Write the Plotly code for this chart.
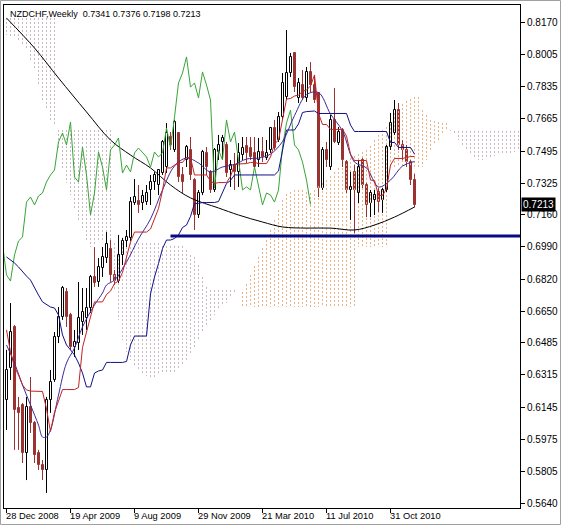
import plotly.graph_objects as go

# ---------------- data ----------------
header_text = "NZDCHF,Weekly  0.7341 0.7376 0.7198 0.7213"
last_close = 0.7213

week = list(range(103))
open_p = [0.6183,0.6352,0.6568,0.6141,0.6157,0.5904,0.6146,0.6062,0.5904,0.5840,
          0.5814,0.6183,0.6288,0.6515,0.6620,0.6752,0.6631,0.6462,0.6483,0.6594,
          0.6615,0.6668,0.6831,0.6805,0.6879,0.6931,0.6979,0.6842,0.6810,0.6947,
          0.7021,0.7037,0.7221,0.7232,0.7221,0.7226,0.7290,0.7332,0.7316,0.7379,
          0.7411,0.7569,0.7501,0.7590,0.7369,0.7448,0.7501,0.7342,0.7158,0.7274,
          0.7485,0.7385,0.7290,0.7490,0.7543,0.7527,0.7395,0.7421,0.7385,0.7474,
          0.7522,0.7511,0.7485,0.7448,0.7490,0.7458,0.7501,0.7616,0.7553,0.7674,
          0.7780,0.7906,0.8012,0.7775,0.7843,0.7775,0.7912,0.7843,0.7801,0.7300,
          0.7501,0.7411,0.7659,0.7537,0.7606,0.7437,0.7290,0.7385,0.7274,0.7448,
          0.7316,0.7221,0.7237,0.7279,0.7237,0.7290,0.7516,0.7590,0.7711,0.7527,
          0.7501,0.7437,0.7341]
high_p = [0.6447,0.6694,0.6578,0.6199,0.6167,0.6199,0.6304,0.6072,0.5920,0.5867,
          0.6199,0.6341,0.6541,0.6673,0.6784,0.6773,0.6642,0.6552,0.6805,0.6773,
          0.6773,0.6842,0.6989,0.6931,0.6989,0.7068,0.7026,0.6868,0.7053,0.7037,
          0.7079,0.7253,0.7348,0.7316,0.7290,0.7316,0.7369,0.7385,0.7395,0.7553,
          0.7643,0.7595,0.7659,0.7595,0.7411,0.7527,0.7569,0.7353,0.7290,0.7501,
          0.7516,0.7395,0.7511,0.7580,0.7580,0.7543,0.7448,0.7485,0.7537,0.7569,
          0.7569,0.7569,0.7569,0.7564,0.7569,0.7553,0.7622,0.7659,0.7701,0.7906,
          0.8133,0.8012,0.8017,0.7880,0.7922,0.7938,0.7964,0.7896,0.7806,0.7516,
          0.7543,0.7685,0.7827,0.7622,0.7616,0.7448,0.7385,0.7421,0.7448,0.7458,
          0.7327,0.7290,0.7290,0.7300,0.7300,0.7527,0.7696,0.7764,0.7748,0.7553,
          0.7527,0.7448,0.7376]
low_p = [0.6025,0.6288,0.5920,0.5920,0.5851,0.5761,0.6009,0.5851,0.5814,0.5761,
         0.5693,0.6115,0.6278,0.6483,0.6605,0.6568,0.6447,0.6410,0.6447,0.6526,
         0.6552,0.6642,0.6779,0.6779,0.6831,0.6905,0.6805,0.6789,0.6800,0.6894,
         0.6989,0.7021,0.7211,0.7169,0.7184,0.7211,0.7211,0.7290,0.7263,0.7369,
         0.7379,0.7501,0.7490,0.7332,0.7274,0.7411,0.7342,0.7079,0.7142,0.7263,
         0.7369,0.7274,0.7279,0.7448,0.7448,0.7358,0.7306,0.7290,0.7306,0.7448,
         0.7432,0.7448,0.7406,0.7411,0.7437,0.7448,0.7485,0.7501,0.7543,0.7659,
         0.7764,0.7885,0.7806,0.7748,0.7764,0.7754,0.7806,0.7748,0.7253,0.7290,
         0.7411,0.7395,0.7537,0.7527,0.7411,0.7274,0.7132,0.7063,0.7221,0.7300,
         0.7147,0.7147,0.7158,0.7174,0.7169,0.7279,0.7501,0.7580,0.7501,0.7448,
         0.7411,0.7316,0.7198]
close_p = [0.6341,0.6541,0.6130,0.6115,0.5904,0.6146,0.6062,0.5893,0.5840,0.5814,
           0.6183,0.6278,0.6515,0.6620,0.6773,0.6620,0.6462,0.6489,0.6615,0.6647,
           0.6668,0.6831,0.6800,0.6884,0.6937,0.7005,0.6842,0.6810,0.6947,0.7021,
           0.7042,0.7226,0.7253,0.7211,0.7258,0.7274,0.7332,0.7369,0.7395,0.7543,
           0.7590,0.7527,0.7648,0.7358,0.7332,0.7516,0.7369,0.7158,0.7274,0.7490,
           0.7411,0.7290,0.7501,0.7527,0.7564,0.7379,0.7421,0.7385,0.7485,0.7511,
           0.7485,0.7464,0.7411,0.7490,0.7464,0.7485,0.7616,0.7511,0.7674,0.7854,
           0.7906,0.7991,0.7832,0.7854,0.7775,0.7912,0.7843,0.7764,0.7300,0.7501,
           0.7448,0.7659,0.7543,0.7595,0.7448,0.7290,0.7306,0.7290,0.7411,0.7316,
           0.7211,0.7274,0.7263,0.7226,0.7290,0.7516,0.7643,0.7711,0.7527,0.7501,
           0.7437,0.7342,0.7213]

tenkan = [0.6552,0.6436,0.6357,0.6315,0.6262,0.6236,0.6230,0.6230,0.6228,0.6228,
          0.6136,0.6017,0.6117,0.6183,0.6238,0.6238,0.6238,0.6238,0.6249,0.6460,
          0.6541,0.6626,0.6700,0.6700,0.6700,0.6739,0.6757,0.6797,0.6810,0.6855,
          0.6929,0.7016,0.7068,0.7068,0.7068,0.7068,0.7084,0.7140,0.7192,0.7287,
          0.7406,0.7406,0.7421,0.7435,0.7435,0.7461,0.7461,0.7369,0.7369,0.7369,
          0.7369,0.7337,0.7324,0.7329,0.7329,0.7329,0.7361,0.7421,0.7427,0.7427,
          0.7429,0.7435,0.7435,0.7429,0.7429,0.7429,0.7464,0.7532,0.7553,0.7656,
          0.7769,0.7772,0.7785,0.7790,0.7809,0.7817,0.7838,0.7896,0.7693,0.7635,
          0.7635,0.7609,0.7609,0.7609,0.7609,0.7574,0.7479,0.7445,0.7445,0.7445,
          0.7445,0.7342,0.7340,0.7261,0.7261,0.7295,0.7421,0.7456,0.7456,0.7456,
          0.7461,0.7466,0.7466]
kijun = [0.6937,0.6921,0.6905,0.6884,0.6858,0.6836,0.6815,0.6773,0.6736,0.6700,
         0.6684,0.6673,0.6668,0.6631,0.6526,0.6473,0.6447,0.6420,0.6378,0.6325,
         0.6252,0.6252,0.6325,0.6336,0.6341,0.6381,0.6381,0.6381,0.6381,0.6381,
         0.6386,0.6473,0.6520,0.6520,0.6520,0.6520,0.6742,0.6831,0.6902,0.6981,
         0.7026,0.7026,0.7034,0.7053,0.7092,0.7105,0.7150,0.7219,0.7219,0.7224,
         0.7224,0.7224,0.7224,0.7229,0.7277,0.7324,0.7340,0.7369,0.7369,0.7369,
         0.7369,0.7369,0.7369,0.7369,0.7369,0.7369,0.7369,0.7369,0.7390,0.7493,
         0.7606,0.7606,0.7606,0.7638,0.7698,0.7703,0.7703,0.7706,0.7693,0.7693,
         0.7693,0.7693,0.7693,0.7693,0.7693,0.7693,0.7632,0.7598,0.7598,0.7598,
         0.7598,0.7598,0.7598,0.7598,0.7598,0.7598,0.7540,0.7540,0.7514,0.7514,
         0.7514,0.7514,0.7479]
chikou_shift = 26

span_a = [0.8107,0.8101,0.8096,0.8080,0.8054,0.8028,0.7975,0.7922,0.7843,0.7764,
          0.7711,0.7659,0.7632,0.7501,0.7395,0.7327,0.7263,0.7184,0.7132,0.7079,
          0.7026,0.6989,0.7000,0.7016,0.7026,0.7026,0.7026,0.6763,0.6604,0.6499,
          0.6436,0.6394,0.6367,0.6341,0.6325,0.6309,0.6304,0.6304,0.6315,0.6325,
          0.6325,0.6325,0.6325,0.6341,0.6367,0.6394,0.6431,0.6457,0.6499,0.6536,
          0.6578,0.6604,0.6631,0.6657,0.6678,0.6694,0.6721,0.6742,0.6763,0.6752,
          0.6794,0.6842,0.6889,0.6937,0.6984,0.7026,0.7079,0.7132,0.7184,0.7237,
          0.7269,0.7279,0.7290,0.7290,0.7290,0.7279,0.7274,0.7290,0.7311,0.7327,
          0.7342,0.7364,0.7385,0.7406,0.7427,0.7448,0.7458,0.7469,0.7479,0.7490,
          0.7501,0.7522,0.7553,0.7580,0.7606,0.7622,0.7659,0.7696,0.7727,0.7743,
          0.7759,0.7769,0.7780,0.7780,0.7711,0.7685,0.7659,0.7653,0.7648,0.7643,
          0.7643,0.7606,0.7580,0.7553,0.7527,0.7501,0.7474,0.7458,0.7448,0.7448,
          0.7458,0.7464,0.7469,0.7474,0.7474,0.7479,0.7485,0.7490,0.7501]
span_b = [0.8196,0.8196,0.8196,0.8196,0.8196,0.8196,0.8196,0.8196,0.8196,0.8196,
          0.8196,0.8196,0.8196,0.7606,0.7606,0.7606,0.7606,0.7606,0.7606,0.7606,
          0.7606,0.7606,0.7606,0.7606,0.7606,0.7606,0.7606,0.7010,0.7010,0.7010,
          0.7010,0.7010,0.7010,0.7010,0.7010,0.7010,0.7010,0.7010,0.7010,0.6995,
          0.6995,0.6995,0.6995,0.6995,0.6995,0.6974,0.6947,0.6937,0.6894,0.6831,
          0.6779,0.6763,0.6763,0.6763,0.6763,0.6763,0.6763,0.6763,0.6763,0.6673,
          0.6673,0.6673,0.6673,0.6673,0.6673,0.6673,0.6673,0.6673,0.6673,0.6673,
          0.6673,0.6673,0.6673,0.6673,0.6673,0.6673,0.6673,0.6673,0.6673,0.6673,
          0.6673,0.6673,0.6673,0.6673,0.6673,0.6673,0.6673,0.6673,0.6989,0.6989,
          0.6989,0.6989,0.6989,0.6989,0.6989,0.6989,0.7411,0.7411,0.7411,0.7411,
          0.7411,0.7411,0.7411,0.7411,0.7411,0.7448,0.7501,0.7527,0.7553,0.7580,
          0.7601,0.7601,0.7601,0.7601,0.7601,0.7601,0.7601,0.7601,0.7601,0.7601,
          0.7601,0.7601,0.7601,0.7601,0.7601,0.7601,0.7601,0.7601,0.7601]

ma_week = [0,2,4,6,8,9,10,11,13,15,17,19,22,24,25,27,30,33,36,39,42,45,48,51,54,57,
           60,63,66,69,72,75,78,81,84,87,90,93,96,99,102]
ma_vals = [0.6473,0.6378,0.6262,0.6157,0.6051,0.5988,0.5988,0.6025,0.6209,0.6378,
           0.6457,0.6568,0.6684,0.6747,0.6789,0.6815,0.6910,0.7032,0.7137,0.7290,
           0.7416,0.7458,0.7432,0.7385,0.7411,0.7424,0.7453,0.7458,0.7479,0.7545,
           0.7682,0.7792,0.7803,0.7690,0.7601,0.7437,0.7406,0.7306,0.7342,0.7416,0.7440]

slow_week = [0,7,13,20,26,31,36,41,46,53,58,64,69,75,81,87,92,97,102]
slow_vals = [0.8196,0.8038,0.7880,0.7701,0.7553,0.7474,0.7406,0.7316,0.7248,0.7195,
             0.7158,0.7121,0.7095,0.7089,0.7089,0.7079,0.7105,0.7147,0.7200]

support_level = 0.7047
support_from_week = 41

date_ticks = [0, 16, 32, 48, 64, 80, 96]
date_labels = ["28 Dec 2008", "19 Apr 2009", "9 Aug 2009", "29 Nov 2009",
               "21 Mar 2010", "11 Jul 2010", "31 Oct 2010"]
price_labels = ["0.8170", "0.8005", "0.7835", "0.7665", "0.7495", "0.7325", "0.7160",
                "0.6990", "0.6820", "0.6650", "0.6485", "0.6315", "0.6145", "0.5975",
                "0.5805", "0.5640"]
price_ticks = [float(t) for t in price_labels]

# ---------------- styles ----------------
SANDY = "#e8b083"
THISTLE = "#c9b6c0"
BEAR = "#9a3232"
TENKAN_C = "#c42222"
KIJUN_C = "#10108a"
MA_C = "#3a2c9a"
CHIKOU_C = "#38a438"
FONT = "Liberation Sans, Arial, sans-serif"

fig = go.Figure()

# cloud: one dotted vertical stroke per week, coloured by which span is on top
bx, by, tx, ty = [], [], [], []
for i, (a, b) in enumerate(zip(span_a, span_b)):
    if a >= b:
        bx += [i, i, None]; by += [a, b, None]
    else:
        tx += [i, i, None]; ty += [b, a, None]
fig.add_trace(go.Scatter(x=tx, y=ty, mode="lines", hoverinfo="skip", name="kumo_bear",
                         line=dict(color=THISTLE, width=1, dash="2px,2px")))
fig.add_trace(go.Scatter(x=bx, y=by, mode="lines", hoverinfo="skip", name="kumo_bull",
                         line=dict(color=SANDY, width=1, dash="2px,2px")))

# candles: bodies as bars, wicks as line segments outside the body
bull_w, bull_b, bull_h, bear_w, bear_b, bear_h = [], [], [], [], [], []
wick_bull_x, wick_bull_y, wick_bear_x, wick_bear_y = [], [], [], []
for i, o, h, l, c in zip(week, open_p, high_p, low_p, close_p):
    lo, hi = min(o, c), max(o, c)
    seg_x = [i, i, None, i, i, None]
    seg_y = [l, lo, None, hi, h, None]
    if c >= o:
        bull_w.append(i); bull_b.append(lo); bull_h.append(hi - lo)
        wick_bull_x += seg_x; wick_bull_y += seg_y
    else:
        bear_w.append(i); bear_b.append(lo); bear_h.append(hi - lo)
        wick_bear_x += seg_x; wick_bear_y += seg_y
fig.add_trace(go.Bar(x=bull_w, y=bull_h, base=bull_b, width=0.5, hoverinfo="skip",
                     marker=dict(color="white", line=dict(color="black", width=1))))
fig.add_trace(go.Bar(x=bear_w, y=bear_h, base=bear_b, width=0.5, hoverinfo="skip",
                     marker=dict(color=BEAR, line=dict(color=BEAR, width=1))))
fig.add_trace(go.Scatter(x=wick_bull_x, y=wick_bull_y, mode="lines", hoverinfo="skip",
                         line=dict(color="black", width=1)))
fig.add_trace(go.Scatter(x=wick_bear_x, y=wick_bear_y, mode="lines", hoverinfo="skip",
                         line=dict(color=BEAR, width=1)))

# indicator lines
fig.add_trace(go.Scatter(x=slow_week, y=slow_vals, mode="lines", line=dict(color="black", width=1),
                         line_shape="spline", hoverinfo="skip"))
fig.add_trace(go.Scatter(x=[i - chikou_shift for i in week], y=close_p, mode="lines",
                         line=dict(color=CHIKOU_C, width=1), hoverinfo="skip"))
fig.add_trace(go.Scatter(x=week, y=kijun, mode="lines", line=dict(color=KIJUN_C, width=1),
                         hoverinfo="skip"))
fig.add_trace(go.Scatter(x=ma_week, y=ma_vals, mode="lines", line=dict(color=MA_C, width=1),
                         line_shape="spline", hoverinfo="skip"))
fig.add_trace(go.Scatter(x=week, y=tenkan, mode="lines", line=dict(color=TENKAN_C, width=1),
                         hoverinfo="skip"))
fig.add_trace(go.Scatter(x=[support_from_week, len(span_a) + 5], y=[support_level, support_level],
                         mode="lines", line=dict(color="#0a0a82", width=3), hoverinfo="skip"))

annotations = []
for t, lab in zip(date_ticks, date_labels):
    annotations.append(dict(x=t, y=0, xref="x", yref="paper", text=lab, showarrow=False,
                            xanchor="left", yanchor="top", xshift=-3, yshift=-1,
                            font=dict(family=FONT, size=9.3, color="black")))
annotations.append(dict(x=0, y=1, xref="paper", yref="paper", text=header_text, showarrow=False,
                        xanchor="left", yanchor="top", xshift=4, yshift=-2,
                        font=dict(family=FONT, size=9, color="black")))
annotations.append(dict(x=1, y=last_close, xref="paper", yref="y", text=f"{last_close:.4f}",
                        showarrow=False, xanchor="left", yanchor="middle", xshift=1,
                        bgcolor="black", borderpad=1,
                        font=dict(family=FONT, size=10, color="white")))

fig.update_layout(
    width=562, height=526, margin=dict(l=4, r=42, t=5, b=18),
    paper_bgcolor="white", plot_bgcolor="white", showlegend=False, bargap=0,
    font=dict(family=FONT, size=10, color="black"),
    xaxis=dict(range=[-0.625, 128.375], showgrid=False, zeroline=False, showline=True,
               linecolor="black", linewidth=1, mirror=True, ticks="outside", ticklen=4,
               tickcolor="black", tickvals=date_ticks, showticklabels=False, fixedrange=True),
    yaxis=dict(range=[0.56138, 0.82647], side="right", showgrid=False, zeroline=False,
               showline=True, linecolor="black", linewidth=1, mirror=True, ticks="outside",
               ticklen=4, tickcolor="black", tickmode="array", tickvals=price_ticks,
               ticktext=price_labels, tickfont=dict(family=FONT, size=10, color="black"),
               fixedrange=True),
    annotations=annotations,
    shapes=[dict(type="rect", xref="paper", yref="paper",
                 x0=-3.5 / 516, x1=556.5 / 516, y0=-16.5 / 503, y1=507.5 / 503,
                 line=dict(color="#a0a0a0", width=1))],
)

fig.write_html("out.html", config={"displayModeBar": False},
               post_script="document.body.style.margin='0';document.body.style.overflow='hidden';")
